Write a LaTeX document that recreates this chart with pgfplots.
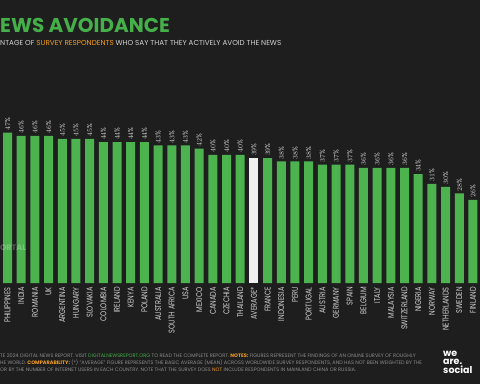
\documentclass[border=0pt]{standalone}
\usepackage{fontspec}
\setmainfont{Poppins}
\newfontfamily\condfont[FakeStretch=0.78]{Poppins}
\newfontfamily\valfont[FakeStretch=0.85]{Poppins}
\usepackage{pgfplots}
\usepackage{pgfplotstable}
\pgfplotsset{compat=1.18}
\definecolor{bg}{HTML}{1E1E1E}
\definecolor{bargreen}{HTML}{4CB34F}
\definecolor{titlegreen}{HTML}{45B04A}
\definecolor{accent}{HTML}{F39C1F}
\definecolor{lblgray}{HTML}{D2D2D2}
\definecolor{footgray}{HTML}{8C8C8C}
\definecolor{avgwhite}{HTML}{F0F0F0}
\pgfplotstableread{
x y
0 47
1 46
2 46
3 46
4 45
5 45
6 45
7 44
8 44
9 44
10 44
11 43
12 43
13 43
14 42
15 40
16 40
17 40
19 39
20 38
21 38
22 38
23 37
24 37
25 37
26 36
27 36
28 36
29 36
30 34
31 31
32 30
33 28
34 26
}\countries
\pgfplotstableread{
x y
18 39
}\average
\begin{document}
\begin{tikzpicture}[x=1pt,y=1pt]
\useasboundingbox (0,0) rectangle (480,384);
\fill[bg] (0,0) rectangle (480,384);
% titles
\node[anchor=base west, inner sep=0pt, text=titlegreen, font=\fontsize{20}{20}\selectfont\bfseries] at (0,352) {EWS AVOIDANCE};
\node[anchor=base west, inner sep=0pt, text=lblgray, font=\fontsize{7.2}{8}\selectfont] at (0,338) {NTAGE OF \textcolor{accent}{SURVEY RESPONDENTS} WHO SAY THAT THEY ACTIVELY AVOID THE NEWS};
\begin{axis}[
  anchor=origin, at={(7.5pt,101pt)},
  x=13.69pt, y=3.2pt,
  xmin=-0.5, xmax=34.5, ymin=0, ymax=50,
  axis line style={draw=none},
  major tick length=0pt,
  ytick=\empty,
  xtick={0,...,34},
  xticklabels={PHILIPPINES,INDIA,ROMANIA,UK,ARGENTINA,HUNGARY,SLOVAKIA,COLOMBIA,IRELAND,KENYA,POLAND,AUSTRALIA,SOUTH AFRICA,USA,MEXICO,CANADA,CZECHIA,THAILAND,AVERAGE*,FRANCE,INDONESIA,PERU,PORTUGAL,AUSTRIA,GERMANY,SPAIN,BELGIUM,ITALY,MALAYSIA,SWITZERLAND,NIGERIA,NORWAY,NETHERLANDS,SWEDEN,FINLAND},
  xticklabel style={rotate=90, anchor=east, inner sep=0pt, xshift=-4pt, text=lblgray, font=\condfont\fontsize{8.4}{9}\selectfont},
  ybar, bar width=9pt, bar shift=0pt,
  nodes near coords={\pgfmathprintnumber{\pgfplotspointmeta}\%},
  nodes near coords style={rotate=90, anchor=west, inner sep=0pt, xshift=2pt, text=lblgray, font=\valfont\fontsize{7.2}{8}\selectfont},
  clip=false,
]
\addplot[fill=bargreen, draw=none, bar shift=0pt] table[x=x,y=y] {\countries};
\addplot[fill=avgwhite, draw=none, bar shift=0pt] table[x=x,y=y] {\average};
\end{axis}
% watermark
\node[anchor=base west, inner sep=0pt, text=white, opacity=0.25, font=\fontsize{8}{8}\selectfont\bfseries] at (0,134) {ORTAL};
% footer
\begin{scope}[every node/.style={anchor=base west, inner sep=0pt, text=footgray, font=\fontsize{5}{5}\selectfont}]
\node at (0,27) {TE 2024 DIGITAL NEWS REPORT. VISIT \textcolor{titlegreen}{DIGITALNEWSREPORT.ORG} TO READ THE COMPLETE REPORT. \textcolor{accent}{\bfseries NOTES:} FIGURES REPRESENT THE FINDINGS OF AN ONLINE SURVEY OF ROUGHLY};
\node at (0,20) {HE WORLD. \textcolor{accent}{\bfseries COMPARABILITY:} (*) ``AVERAGE'' FIGURE REPRESENTS THE BASIC AVERAGE (MEAN) ACROSS WORLDWIDE SURVEY RESPONDENTS, AND HAS NOT BEEN WEIGHTED BY THE};
\node at (0,13) {OR BY THE NUMBER OF INTERNET USERS IN EACH COUNTRY. NOTE THAT THE SURVEY DOES \textcolor{accent}{NOT} INCLUDE RESPONDENTS IN MAINLAND CHINA OR RUSSIA.};
\end{scope}
% logo
\node[anchor=north west, inner sep=0pt, align=left, text=white, font=\fontsize{9.5}{8.6}\selectfont\bfseries] at (443,33.5) {we\\are.\\social};
\end{tikzpicture}
\end{document}
